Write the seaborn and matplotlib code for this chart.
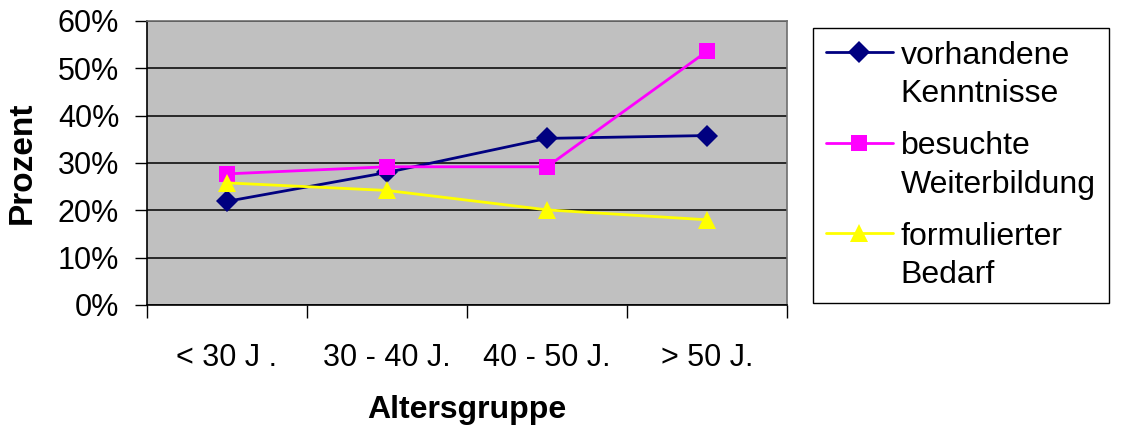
import matplotlib
matplotlib.use("Agg")
import matplotlib.pyplot as plt
import seaborn as sns
import pandas as pd
from matplotlib.ticker import FixedLocator, PercentFormatter
from matplotlib.offsetbox import HPacker

categories = ["< 30 J .", "30 - 40 J.", "40 - 50 J.", "> 50 J."]
series_names = ["vorhandene\nKenntnisse", "besuchte\nWeiterbildung", "formulierter\nBedarf"]
vorhandene = [21.9, 28.0, 35.2, 35.8]
besuchte = [27.7, 29.2, 29.2, 53.6]
formuliert = [25.8, 24.2, 20.1, 18.0]
y_ticks = [0, 10, 20, 30, 40, 50, 60]

rows = []
for name, vals in zip(series_names, [vorhandene, besuchte, formuliert]):
    for i, (c, v) in enumerate(zip(categories, vals)):
        rows.append({"pos": i, "Altersgruppe": c, "Serie": name, "Prozent": v})
df = pd.DataFrame(rows)

sns.set_style("white")
plt.rcParams["font.family"] = ["Liberation Sans", "DejaVu Sans"]
plt.rcParams["text.color"] = "black"
plt.rcParams["axes.labelcolor"] = "black"
plt.rcParams["xtick.color"] = "black"
plt.rcParams["ytick.color"] = "black"

FS = 22

fig = plt.figure(figsize=(11.28, 4.28), dpi=100)
ax = fig.add_axes([147/1128, 1-305/428, 640/1128, 284/428])
ax.set_facecolor("#C0C0C0")

palette = {series_names[0]: "#000080", series_names[1]: "#FF00FF", series_names[2]: "#FFFF00"}
markers = {series_names[0]: "D", series_names[1]: "s", series_names[2]: "^"}
sns.lineplot(data=df, x="pos", y="Prozent", hue="Serie", style="Serie",
             palette=palette, markers=markers, dashes=False, linewidth=2,
             markersize=11, markeredgewidth=0, ax=ax, legend=True)
for line in ax.get_lines():
    if line.get_marker() == "^":
        line.set_markersize(13)

ax.set_xlim(-0.5, 3.5)
ax.set_ylim(0, 60)
ax.yaxis.set_major_locator(FixedLocator(y_ticks))
ax.yaxis.set_major_formatter(PercentFormatter(decimals=0))
ax.grid(axis="y", color="black", linewidth=1.1)
ax.set_axisbelow(True)

ax.xaxis.set_major_locator(FixedLocator([-0.5, 0.5, 1.5, 2.5, 3.5]))
ax.xaxis.set_major_formatter(plt.NullFormatter())
ax.set_xticks(range(len(categories)), labels=categories, minor=True)
ax.tick_params(axis="x", which="major", bottom=True, length=9, width=1, color="black", direction="out")
ax.tick_params(axis="x", which="minor", bottom=True, length=0, pad=27, labelsize=FS, labelcolor="black")
ax.tick_params(axis="y", left=True, length=9, width=1, color="black", direction="out", pad=11,
               labelsize=FS, labelcolor="black")

for s in ax.spines.values():
    s.set_color("#6E6E6E")
    s.set_linewidth(1.2)
ax.spines["bottom"].set_color("black")
ax.spines["left"].set_color("black")

ax.set_xlabel("Altersgruppe", fontsize=23, fontweight="bold", labelpad=16, color="black")
ax.set_ylabel("Prozent", fontsize=24, fontweight="bold", color="black")
ax.yaxis.set_label_coords(-0.17, 0.5)

handles, labels = ax.get_legend_handles_labels()
leg = ax.legend(handles, labels, loc="upper left", bbox_to_anchor=(813/1128, 1-28/428),
                bbox_transform=fig.transFigure, borderaxespad=0, frameon=True,
                fancybox=False, edgecolor="black", framealpha=1, fontsize=23,
                handlelength=2.1, labelspacing=0.7, handletextpad=0.25, borderpad=0.4)
leg.get_frame().set_linewidth(1.0)
for t in leg.get_texts():
    t.set_linespacing(1.36)
    t.set_color("black")
for col in leg._legend_handle_box.get_children():
    for row in col.get_children():
        if isinstance(row, HPacker):
            row.align = "top"

fig.savefig("out.png", dpi=100)
